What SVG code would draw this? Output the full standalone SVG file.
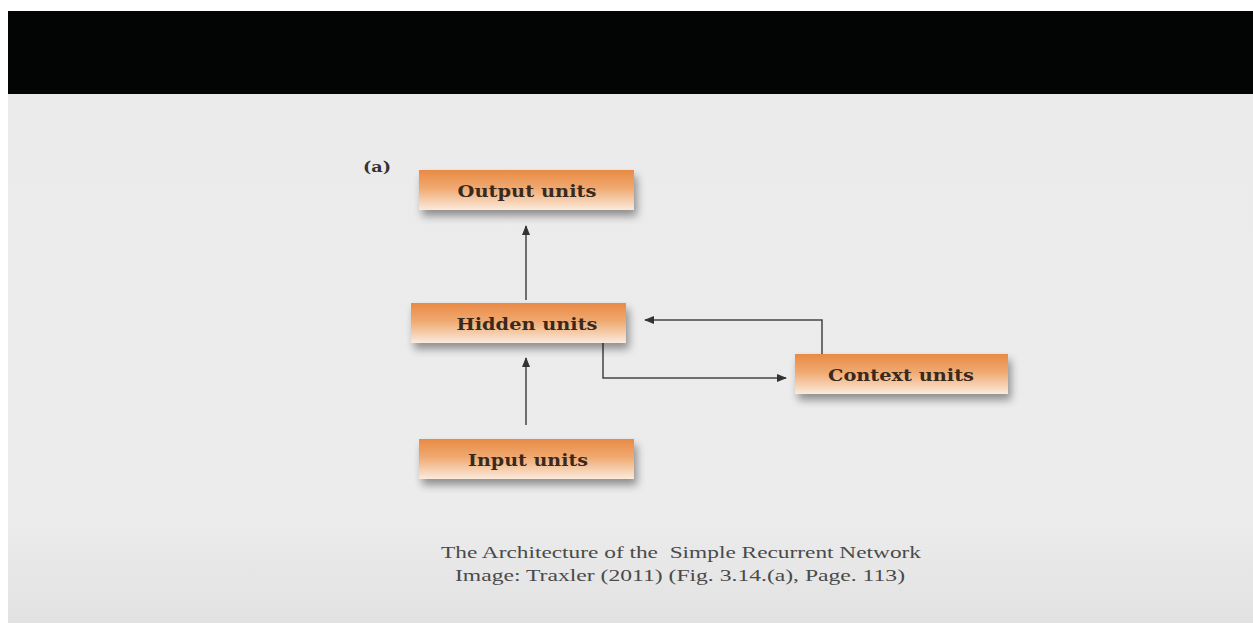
<svg xmlns="http://www.w3.org/2000/svg" width="1253" height="625" viewBox="0 0 1253 625">
<defs>
<linearGradient id="bg" x1="0" y1="0" x2="0" y2="1">
<stop offset="0" stop-color="#ebebeb"/><stop offset="0.8" stop-color="#ececec"/><stop offset="1" stop-color="#e2e2e2"/>
</linearGradient>
<linearGradient id="box" x1="0" y1="0" x2="0" y2="1">
<stop offset="0" stop-color="#e98a45"/><stop offset="0.45" stop-color="#f0a970"/><stop offset="1" stop-color="#fbeadc"/>
</linearGradient>
<filter id="sh" x="-10%" y="-20%" width="125%" height="170%">
<feGaussianBlur in="SourceAlpha" stdDeviation="4"/>
<feOffset dx="3" dy="6" result="b"/>
<feComponentTransfer><feFuncA type="linear" slope="0.4"/></feComponentTransfer>
<feMerge><feMergeNode/><feMergeNode in="SourceGraphic"/></feMerge>
</filter>
<marker id="ah" viewBox="0 0 10 10" refX="9" refY="5" markerWidth="10" markerHeight="10" markerUnits="userSpaceOnUse" orient="auto">
<path d="M0,1 L10,5 L0,9 Z" fill="#333"/>
</marker>
<style>
.box{fill:url(#box);filter:url(#sh)}
.lbl{font-family:"DejaVu Serif","Liberation Serif",serif;font-weight:bold;font-size:17px;fill:#3a2a1c;text-anchor:middle}
.con{fill:none;stroke:#444;stroke-width:1.5}
.cap{font-family:"Liberation Serif","Times New Roman",serif;font-size:17px;fill:#4a4a4a;text-anchor:middle}
</style>
</defs>
<rect x="0" y="0" width="1253" height="625" fill="#ffffff"/>
<rect x="8" y="94" width="1245" height="529" fill="url(#bg)"/>
<rect x="8" y="11" width="1245" height="83" fill="#030404"/>
<text x="363" y="172" font-family="DejaVu Serif, serif" font-weight="bold" font-size="15" fill="#333" textLength="28" lengthAdjust="spacingAndGlyphs">(a)</text>
<g id="connectors">
<line class="con" x1="526" y1="300" x2="526" y2="226" marker-end="url(#ah)"/>
<line class="con" x1="526" y1="425" x2="526" y2="358" marker-end="url(#ah)"/>
<polyline class="con" points="603,343 603,378 786,378" marker-end="url(#ah)"/>
<polyline class="con" points="822,354 822,320 645,320" marker-end="url(#ah)"/>
</g>
<g id="output">
<rect class="box" x="419" y="170" width="215" height="40"/>
<text class="lbl" x="527" y="197" textLength="139" lengthAdjust="spacingAndGlyphs">Output units</text>
</g>
<g id="hidden">
<rect class="box" x="411" y="303" width="215" height="40"/>
<text class="lbl" x="527" y="330" textLength="141" lengthAdjust="spacingAndGlyphs">Hidden units</text>
</g>
<g id="context">
<rect class="box" x="795" y="354" width="213" height="40"/>
<text class="lbl" x="901" y="381" textLength="146" lengthAdjust="spacingAndGlyphs">Context units</text>
</g>
<g id="input">
<rect class="box" x="419" y="439" width="215" height="40"/>
<text class="lbl" x="528" y="466" textLength="120" lengthAdjust="spacingAndGlyphs">Input units</text>
</g>
<text class="cap" x="681" y="558" textLength="480" lengthAdjust="spacingAndGlyphs" xml:space="preserve">The Architecture of the  Simple Recurrent Network</text>
<text class="cap" x="680" y="581" textLength="450" lengthAdjust="spacingAndGlyphs">Image: Traxler (2011) (Fig. 3.14.(a), Page. 113)</text>
</svg>
